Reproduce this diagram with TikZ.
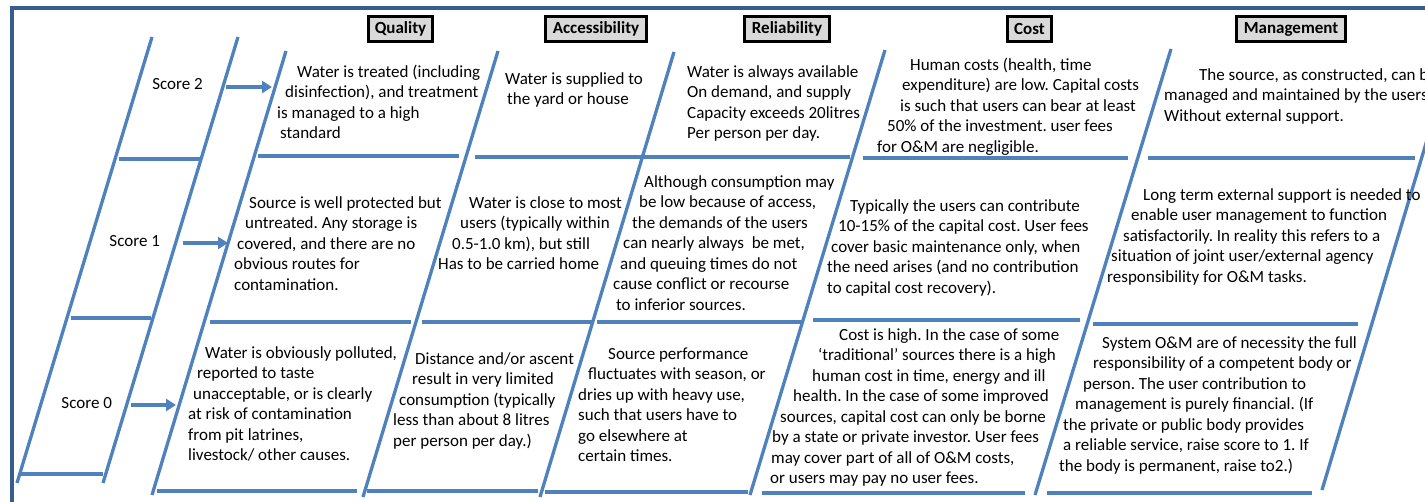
\documentclass[tikz,border=0pt]{standalone}
\usepackage{fontspec}
\setmainfont{Carlito}
\usetikzlibrary{arrows.meta}
\definecolor{gridblue}{HTML}{4F81BD}
\definecolor{frameblue}{HTML}{385D8A}
\definecolor{headgray}{HTML}{D9D9D9}
% leading indent of a text line, in pt
\newcommand{\xoff}[1]{\hspace*{#1pt}}
\frenchspacing

\begin{document}
\begin{tikzpicture}[x=1pt,y=-1pt,
  gridline/.style={draw=gridblue, line width=3.3pt},
  frameline/.style={draw=frameblue, line width=4.2pt},
  header/.style={draw=black, line width=2.8pt, fill=headgray,
    font=\fontsize{17}{20.5}\selectfont\bfseries, inner sep=0pt, minimum height=25.4pt},
  cell/.style={anchor=north west, inner sep=0pt, align=left,
    font=\fontsize{17}{20.5}\selectfont},
  scorelbl/.style={inner sep=0pt, font=\fontsize{17}{20.5}\selectfont},
  arr/.style={draw=gridblue, line width=3.3pt, -{Triangle[length=10pt,width=12pt]}}]

\useasboundingbox (0,0) rectangle (1425,502);

% outer frame
\draw[frameline] (12,520) -- (12,8) -- (1450,8);

% column headers
\node[header, minimum width=64.4pt]  (hq) at (400.5,29) {Quality};
\node[header, minimum width=101.4pt] (ha) at (596,29)   {Accessibility};
\node[header, minimum width=85.4pt]  (hr) at (787,29)   {Reliability};
\node[header, minimum width=44.4pt]  (hc) at (1029.5,29){Cost};
\node[header, minimum width=109.4pt] (hm) at (1291,29)  {Management};

% score ladder
\draw[gridline] (152,37) -- (17,483);
\draw[gridline] (238,37) -- (103,483);
\draw[gridline] (119,159) -- (200,159);
\draw[gridline] (71,318) -- (151,318);
\draw[gridline] (20,474) -- (103,474);

\node[scorelbl] (sc2) at (177.5,84) {Score 2};
\node[scorelbl] (sc1) at (134.7,241) {Score 1};
\node[scorelbl] (sc0) at (86.7,403) {Score 0};

\coordinate (t2) at (272,87);
\coordinate (t1) at (228,243);
\coordinate (t0) at (176,405);
\draw[arr] ([shift={(23pt,-3pt)}]sc2.east) -- (t2);
\draw[arr] ([shift={(23pt,-2pt)}]sc1.east) -- (t1);
\draw[arr] ([shift={(19pt,-2pt)}]sc0.east) -- (t0);

% slanted column separators
\draw[gridline] (286,51)  -- (152,495);
\draw[gridline] (498,51)  -- (363,497);
\draw[gridline] (674,52)  -- (540,497);
\draw[gridline] (885,50)  -- (750,495);
\draw[gridline] (1171,49) -- (1035,495);
\draw[gridline] (1454,50) -- (1322,490);

% row separators
\draw[gridline] (258,156)  -- (459,156);
\draw[gridline] (475,157)  -- (850,157);
\draw[gridline] (863,158)  -- (1128,158);
\draw[gridline] (1148,158) -- (1415,158);

\draw[gridline] (210,322)  -- (411,322);
\draw[gridline] (422,322)  -- (592,322);
\draw[gridline] (597,322)  -- (802,322);
\draw[gridline] (813,320)  -- (1080,320);
\draw[gridline] (1093,324) -- (1358,324);

\draw[gridline] (157,491)  -- (357,491);
\draw[gridline] (367,491)  -- (538,491);
\draw[gridline] (545,492)  -- (748,492);
\draw[gridline] (762,493)  -- (1025,493);
\draw[gridline] (1047,493) -- (1312,493);

% score 2 row
\node[cell] (q2) at (277,62.65) {\strut\xoff{20}Water is treated (including\\\xoff{8}disinfection), and treatment\\is managed to a high\\\xoff{3}standard};
\node[cell] (a2) at (505,69.65) {\strut Water is supplied to\\\xoff{2}the yard or house};
\node[cell] (r2) at (687,62.65) {\strut Water is always available\\On demand, and supply\\Capacity exceeds 20litres\\Per person per day.};
\node[cell] (c2) at (877,55.65) {\strut\xoff{33}Human costs (health, time\\\xoff{25}expenditure) are low. Capital costs\\\xoff{23}is such that users can bear at least\\\xoff{10}50\% of the investment. user fees\\for O\&M are negligible.};
\node[cell] (m2) at (1164,65.65) {\strut\xoff{35}The source, as constructed, can be\\managed and maintained by the users\\Without external support.};

% score 1 row
\node[cell] (q1) at (234,193.65) {\strut\xoff{15}Source is well protected but\\\xoff{11}untreated. Any storage is\\\xoff{3}covered, and there are no\\obvious routes for\\contamination.};
\node[cell] (a1) at (438,193.65) {\strut\xoff{31}Water is close to most\\\xoff{22}users (typically within\\\xoff{14}0.5-1.0 km), but still\\Has to be carried home};
\node[cell] (r1) at (613,172.65) {\strut\xoff{31}Although consumption may\\\xoff{26}be low because of access,\\\xoff{19}the demands of the users\\\xoff{10}can nearly always\ \ be met,\\\xoff{7}and queuing times do not\\cause conflict or recourse\\\xoff{3}to inferior sources.};
\node[cell] (c1) at (827,196.65) {\strut\xoff{23}Typically the users can contribute\\\xoff{11}10-15\% of the capital cost. User fees\\\xoff{4}cover basic maintenance only, when\\the need arises (and no contribution\\to capital cost recovery).};
\node[cell] (m1) at (1107,185.65) {\strut\xoff{36}Long term external support is needed to\\\xoff{24}enable user management to function\\\xoff{16}satisfactorily. In reality this refers to a\\\xoff{4}situation of joint user/external agency\\responsibility for O\&M tasks.};

% score 0 row
\node[cell] (q0) at (188,343.65) {\strut\xoff{17}Water is obviously polluted,\\\xoff{9}reported to taste\\\xoff{5}unacceptable, or is clearly\\at risk of contamination\\from pit latrines,\\livestock/ other causes.};
\node[cell] (a0) at (393,349.65) {\strut\xoff{22}Distance and/or ascent\\\xoff{19}result in very limited\\\xoff{6}consumption (typically\\less than about 8 litres\\per person per day.)};
\node[cell] (r0) at (578,344.65) {\strut\xoff{30}Source performance\\\xoff{10}fluctuates with season, or\\dries up with heavy use,\\such that users have to\\go elsewhere at\\certain times.};
\node[cell] (c0) at (770,325.65) {\strut\xoff{69}Cost is high. In the case of some\\\xoff{48}‘traditional’ sources there is a high\\\xoff{42}human cost in time, energy and ill\\\xoff{23}health. In the case of some improved\\\xoff{10}sources, capital cost can only be borne\\\xoff{2}by a state or private investor. User fees\\\xoff{1}may cover part of all of O\&M costs,\\or users may pay no user fees.};
\node[cell] (m0) at (1059,333.65) {\strut\xoff{43}System O\&M are of necessity the full\\\xoff{34}responsibility of a competent body or\\\xoff{24}person. The user contribution to\\\xoff{16}management is purely financial. (If\\\xoff{4}the private or public body provides\\\xoff{4}a reliable service, raise score to 1. If\\the body is permanent, raise to2.)};

\end{tikzpicture}
\end{document}
